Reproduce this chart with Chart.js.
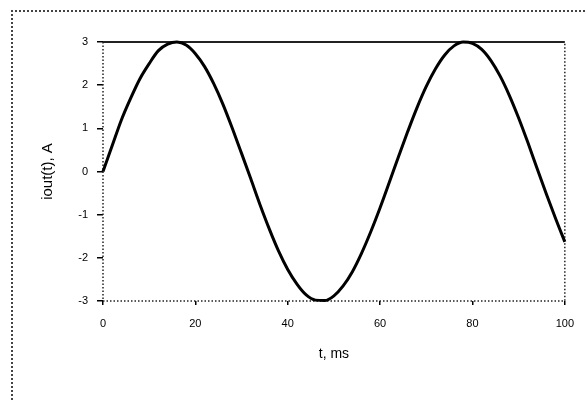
<!DOCTYPE html>
<html lang="en">
<head>
    <meta charset="UTF-8">
    <title>iout(t)</title>
    <style>
        body { margin: 0; background: #fff; overflow: hidden; }
        #frame {
            position: absolute; left: 11px; top: 10px;
            width: 620px; height: 440px;
            border-left: 2px dotted #444; border-top: 2px dotted #444;
        }
        #chartBox { position: absolute; left: 0; top: 0; width: 586px; height: 400px; }
    </style>
</head>
<body>
    <div id="frame"></div>
    <div id="chartBox">
        <canvas id="ioutChart" width="586" height="400"></canvas>
    </div>
    <script src="https://cdn.jsdelivr.net/npm/chart.js"></script>
    <script>
        // time axis, ms
        const timeMs = [0, 2, 4, 6, 8, 10, 12, 14, 16, 18, 20, 22, 24, 26, 28, 30, 32, 34, 36, 38, 40,
            42, 44, 46, 48, 50, 52, 54, 56, 58, 60, 62, 64, 66, 68, 70, 72, 74, 76, 78, 80,
            82, 84, 86, 88, 90, 92, 94, 96, 98, 100]
        // output current, A
        const ioutA = [0.0, 0.6, 1.2, 1.7, 2.15, 2.5, 2.8, 2.95, 3.0, 2.93, 2.73, 2.43, 2.03, 1.55, 1.0, 0.42,
            -0.17, -0.77, -1.33, -1.84, -2.27, -2.61, -2.86, -2.98, -2.99, -2.88, -2.65, -2.32, -1.89, -1.39, -0.84,
            -0.25, 0.35, 0.93, 1.48, 1.97, 2.38, 2.7, 2.91, 3.0, 2.97, 2.83, 2.57, 2.21, 1.76, 1.24, 0.67,
            0.07, -0.52, -1.09, -1.63]
        // upper limit line
        const limitT = [0, 100]
        const limitA = [3, 3]

        const xTicks = [0, 20, 40, 60, 80, 100]
        const yTicks = [3, 2, 1, 0, -1, -2, -3]

        const fontFamily = '"Liberation Sans", Arial, sans-serif'

        // dotted frame on left, right and bottom of the plot area
        const dottedFrame = {
            id: 'dottedFrame',
            beforeDatasetsDraw(chart) {
                const { ctx, chartArea: a } = chart
                ctx.save()
                ctx.strokeStyle = '#222'
                ctx.lineWidth = 1.5
                ctx.setLineDash([1.5, 2])
                ctx.beginPath()
                ctx.moveTo(a.left, a.top)
                ctx.lineTo(a.left, a.bottom)
                ctx.lineTo(a.right, a.bottom)
                ctx.lineTo(a.right, a.top)
                ctx.stroke()
                ctx.restore()
            }
        }

        const ctx = document.getElementById('ioutChart').getContext('2d')
        const ioutChart = new Chart(ctx, {
            type: 'line',
            data: {
                datasets: [
                    {
                        label: 'iout',
                        data: timeMs.map((t, i) => ({ x: t, y: ioutA[i] })),
                        borderColor: '#000',
                        borderWidth: 3,
                        pointRadius: 0,
                        cubicInterpolationMode: 'monotone',
                        clip: false
                    },
                    {
                        label: 'limit',
                        data: limitT.map((t, i) => ({ x: t, y: limitA[i] })),
                        borderColor: '#222',
                        borderWidth: 2,
                        pointRadius: 0,
                        clip: false
                    }
                ]
            },
            options: {
                responsive: false,
                animation: false,
                layout: { padding: { left: 0, top: 42, right: 20, bottom: 0 } },
                plugins: { legend: { display: false }, tooltip: { enabled: false } },
                scales: {
                    x: {
                        type: 'linear',
                        min: 0,
                        max: 100,
                        afterFit: s => { s.height = 99 },
                        afterBuildTicks: s => { s.ticks = xTicks.map(v => ({ value: v })) },
                        border: { display: false },
                        grid: { drawOnChartArea: false, drawTicks: true, tickLength: 4, color: '#000', lineWidth: 1.5 },
                        ticks: { color: '#000', padding: 12, maxRotation: 0, font: { family: fontFamily, size: 11 } },
                        title: {
                            display: true,
                            text: 't, ms',
                            color: '#000',
                            padding: { top: 0, bottom: 37 },
                            font: { family: fontFamily, size: 14 }
                        }
                    },
                    y: {
                        min: -3,
                        max: 3,
                        afterFit: s => { s.width = 103 },
                        afterBuildTicks: s => { s.ticks = yTicks.map(v => ({ value: v })) },
                        border: { display: false },
                        grid: { drawOnChartArea: false, drawTicks: true, tickLength: 6, color: '#000', lineWidth: 1.5 },
                        ticks: { color: '#000', padding: 9, font: { family: fontFamily, size: 11 } },
                        title: {
                            display: true,
                            text: 'iout(t), A',
                            color: '#000',
                            padding: { top: 39, bottom: 0 },
                            font: { family: fontFamily, size: 15 }
                        }
                    }
                }
            },
            plugins: [dottedFrame]
        })
    </script>
</body>
</html>
